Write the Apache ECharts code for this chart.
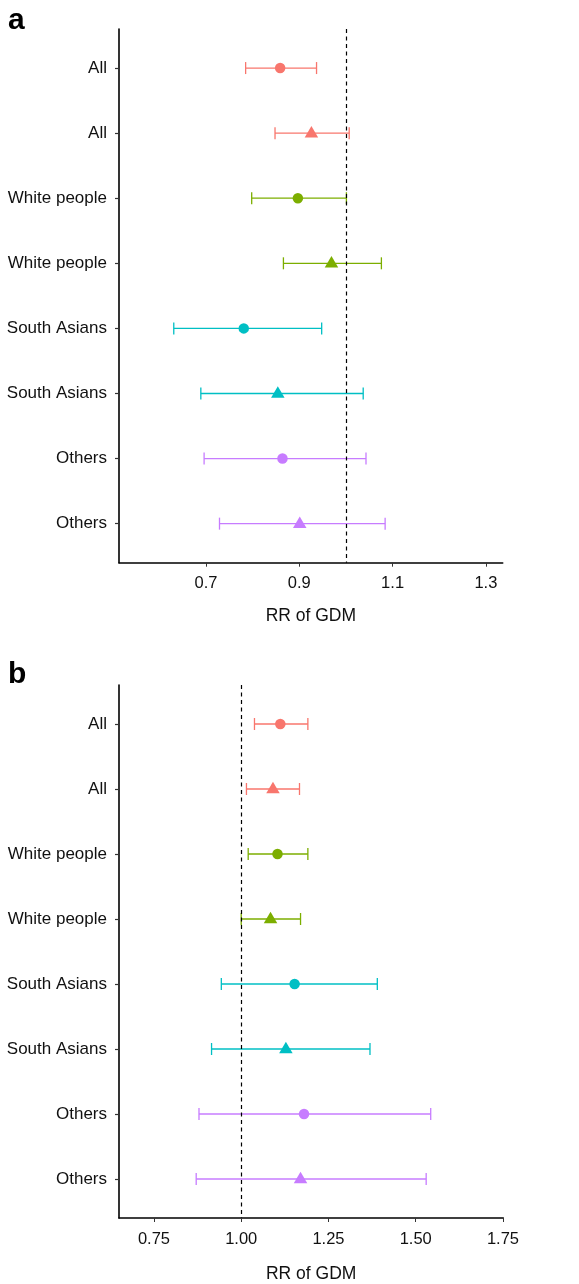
<!DOCTYPE html>
<html>
<head>
<meta charset="utf-8">
<script src="https://cdn.jsdelivr.net/npm/echarts@6/dist/echarts.min.js"></script>
<style>
html,body{margin:0;padding:0;background:#fff;}
#chart{width:579px;height:1284px;}
</style>
</head>
<body>
<div id="chart"></div>
<script>
// Row labels (top to bottom)
const groups = ['All', 'All', 'White people', 'White people', 'South Asians', 'South Asians', 'Others', 'Others'];
const shapes = ['circle', 'triangle', 'circle', 'triangle', 'circle', 'triangle', 'circle', 'triangle'];
const groupColors = {'All': '#F8766D', 'White people': '#7CAE00', 'South Asians': '#00BFC4', 'Others': '#C77CFF'};

// Panel a
const rrA   = [0.859, 0.926, 0.897, 0.969, 0.781, 0.854, 0.864, 0.901];
const lowA  = [0.785, 0.848, 0.798, 0.866, 0.631, 0.689, 0.696, 0.729];
const highA = [0.937, 1.007, 1.001, 1.076, 0.948, 1.037, 1.043, 1.084];
const ticksA = [0.7, 0.9, 1.1, 1.3];

// Panel b
const rrB   = [1.112, 1.091, 1.104, 1.084, 1.153, 1.128, 1.180, 1.170];
const lowB  = [1.038, 1.015, 1.020, 1.000, 0.943, 0.915, 0.879, 0.871];
const highB = [1.191, 1.167, 1.191, 1.170, 1.390, 1.369, 1.543, 1.530];
const ticksB = [0.75, 1.00, 1.25, 1.50, 1.75];

const rows = groups.map((g, i) => i + 1);
const FONT = 'Liberation Sans, Arial, Helvetica, sans-serif';
const TXT = '#111';

function xAxisCfg(idx, min, max, ticks, digits, nameGap, labelMargin) {
  return {
    type: 'value', gridIndex: idx, min: min, max: max,
    name: 'RR of GDM', nameLocation: 'middle', nameGap: nameGap,
    nameTextStyle: {fontFamily: FONT, fontSize: 17.5, color: TXT},
    axisLine: {show: true, onZero: false, lineStyle: {color: '#000', width: 1.6}},
    axisTick: {show: true, length: 4, customValues: ticks, lineStyle: {color: '#333', width: 1}},
    axisLabel: {customValues: ticks, margin: labelMargin, fontFamily: FONT, fontSize: 16.5, color: TXT,
      formatter: v => Number(v).toFixed(digits)},
    splitLine: {show: false}
  };
}
function yAxisCfg(idx) {
  return {
    type: 'value', gridIndex: idx, min: 0.4, max: 8.6, inverse: true,
    axisLine: {show: true, onZero: false, lineStyle: {color: '#000', width: 1.6}},
    axisTick: {show: true, length: 4, customValues: rows, lineStyle: {color: '#333', width: 1.2}},
    axisLabel: {customValues: rows, margin: 12, fontFamily: FONT, fontSize: 17, color: TXT,
      formatter: v => groups[Math.round(v) - 1]},
    splitLine: {show: false}
  };
}

function errorSeries(idx, low, high) {
  return {
    type: 'custom', xAxisIndex: idx, yAxisIndex: idx, z: 2,
    data: low.map((l, i) => [l, high[i], i + 1]),
    encode: {x: [0, 1], y: 2},
    renderItem: function (params, api) {
      const row = api.value(2);
      const p1 = api.coord([api.value(0), row]);
      const p2 = api.coord([api.value(1), row]);
      const c = groupColors[groups[params.dataIndex]];
      const h = 6;
      const st = {stroke: c, lineWidth: 1.3};
      return {
        type: 'group',
        children: [
          {type: 'line', shape: {x1: p1[0], y1: p1[1], x2: p2[0], y2: p2[1]}, style: st},
          {type: 'line', shape: {x1: p1[0], y1: p1[1] - h, x2: p1[0], y2: p1[1] + h}, style: st},
          {type: 'line', shape: {x1: p2[0], y1: p2[1] - h, x2: p2[0], y2: p2[1] + h}, style: st}
        ]
      };
    }
  };
}

function pointSeries(idx, rr) {
  return {
    type: 'scatter', xAxisIndex: idx, yAxisIndex: idx, z: 3,
    data: rr.map((v, i) => ({
      value: [v, i + 1],
      symbol: shapes[i],
      symbolSize: shapes[i] === 'circle' ? 10.5 : [13.5, 11.5],
      symbolOffset: shapes[i] === 'circle' ? [0, 0] : [0, -1.5],
      itemStyle: {color: groupColors[groups[i]], opacity: 1}
    })),
    markLine: {
      silent: true, symbol: ['none', 'none'], label: {show: false},
      lineStyle: {type: [4, 3.5], color: '#000', width: 1.2},
      data: [{xAxis: 1}],
      animation: false
    }
  };
}

const chart = echarts.init(document.getElementById('chart'), null, {renderer: 'canvas'});
chart.setOption({
  animation: false,
  backgroundColor: '#fff',
  grid: [
    {left: 119, top: 29, width: 383.7, height: 533.7},
    {left: 119, top: 685, width: 384.3, height: 533.7}
  ],
  xAxis: [
    xAxisCfg(0, 0.5136, 1.336, ticksA, 1, 44, 12),
    xAxisCfg(1, 0.6498, 1.751, ticksB, 2, 47, 13)
  ],
  yAxis: [yAxisCfg(0), yAxisCfg(1)],
  graphic: [
    {type: 'text', left: 8, top: 6, style: {text: 'a', font: 'bold 30px ' + FONT, fill: '#000'}},
    {type: 'text', left: 8, top: 660, style: {text: 'b', font: 'bold 30px ' + FONT, fill: '#000'}}
  ],
  series: [
    errorSeries(0, lowA, highA), pointSeries(0, rrA),
    errorSeries(1, lowB, highB), pointSeries(1, rrB)
  ]
});
</script>
</body>
</html>
